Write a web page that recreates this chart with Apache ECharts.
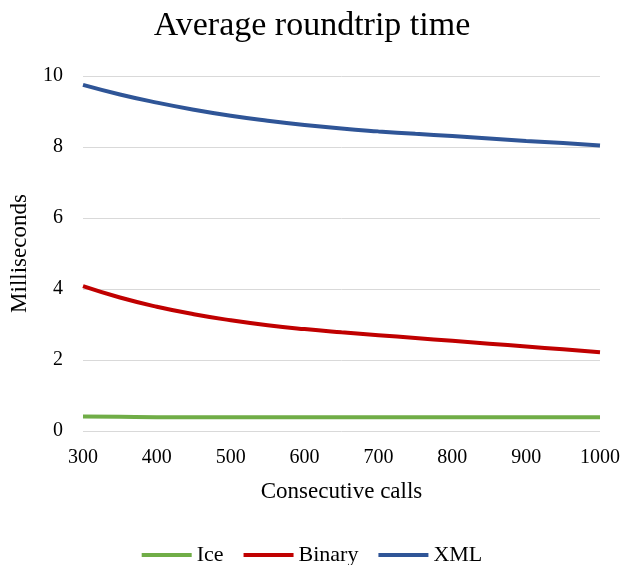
<!DOCTYPE html>
<html>
<head>
<meta charset="utf-8">
<script src="https://cdn.jsdelivr.net/npm/echarts@6/dist/echarts.min.js"></script>
<style>html,body{margin:0;padding:0;background:#fff}#c{width:624px;height:565px}</style>
</head>
<body>
<div id="c"></div>
<script>
var calls = [300, 350, 400, 450, 500, 550, 600, 650, 700, 750, 800, 850, 900, 950, 1000];
var ice = [0.41, 0.40, 0.39, 0.39, 0.39, 0.39, 0.39, 0.39, 0.39, 0.39, 0.39, 0.39, 0.39, 0.39, 0.39];
var binary = [4.08, 3.76, 3.50, 3.29, 3.12, 2.98, 2.87, 2.78, 2.70, 2.62, 2.54, 2.46, 2.38, 2.30, 2.22];
var xml = [9.75, 9.48, 9.25, 9.05, 8.88, 8.74, 8.62, 8.52, 8.44, 8.37, 8.31, 8.24, 8.17, 8.11, 8.04];
var seriesNames = ['Ice', 'Binary', 'XML'];

function pairs(vals) { return calls.map(function (c, i) { return [c, vals[i]]; }); }

var FONT = '"Liberation Serif", "Times New Roman", serif';
var chart = echarts.init(document.getElementById('c'), null, { renderer: 'canvas' });
var colors = ['#70AD47', '#C00000', '#2F5597'];
var datasets = [ice, binary, xml];

chart.setOption({
  animation: false,
  backgroundColor: '#ffffff',
  color: colors,
  title: {
    text: 'Average roundtrip time',
    left: 'center',
    top: 9,
    padding: 0,
    textStyle: { fontFamily: FONT, fontSize: 34, fontWeight: 'normal', color: '#000' }
  },
  legend: {
    data: seriesNames,
    top: 544,
    left: 'center',
    padding: 0,
    icon: 'rect',
    itemWidth: 50,
    itemHeight: 4,
    itemGap: 20,
    textStyle: { fontFamily: FONT, fontSize: 22, color: '#000' }
  },
  grid: { left: 82, right: 24, top: 76, bottom: 134, containLabel: false },
  xAxis: {
    type: 'value',
    min: 300, max: 1000, interval: 100,
    name: 'Consecutive calls',
    nameLocation: 'middle',
    nameGap: 49,
    nameTextStyle: { fontFamily: FONT, fontSize: 23, color: '#000' },
    axisLine: { show: false },
    axisTick: { show: false },
    splitLine: { show: false },
    axisLabel: { fontFamily: FONT, fontSize: 20, color: '#000', margin: 17,
      formatter: function (v) { return String(v); } }
  },
  yAxis: {
    type: 'value',
    min: 0, max: 10, interval: 2,
    name: 'Milliseconds',
    nameLocation: 'middle',
    nameGap: 52,
    nameRotate: 90,
    nameTextStyle: { fontFamily: FONT, fontSize: 23, color: '#000' },
    axisLine: { show: false },
    axisTick: { show: false },
    splitLine: { show: true, lineStyle: { color: '#D9D9D9', width: 1 } },
    axisLabel: { fontFamily: FONT, fontSize: 20, color: '#000', margin: 20 }
  },
  series: seriesNames.map(function (n, i) {
    return {
      name: n,
      type: 'line',
      smooth: true,
      symbol: 'none',
      data: pairs(datasets[i]),
      lineStyle: { width: 4, color: colors[i] },
      itemStyle: { color: colors[i] }
    };
  })
});
</script>
</body>
</html>
